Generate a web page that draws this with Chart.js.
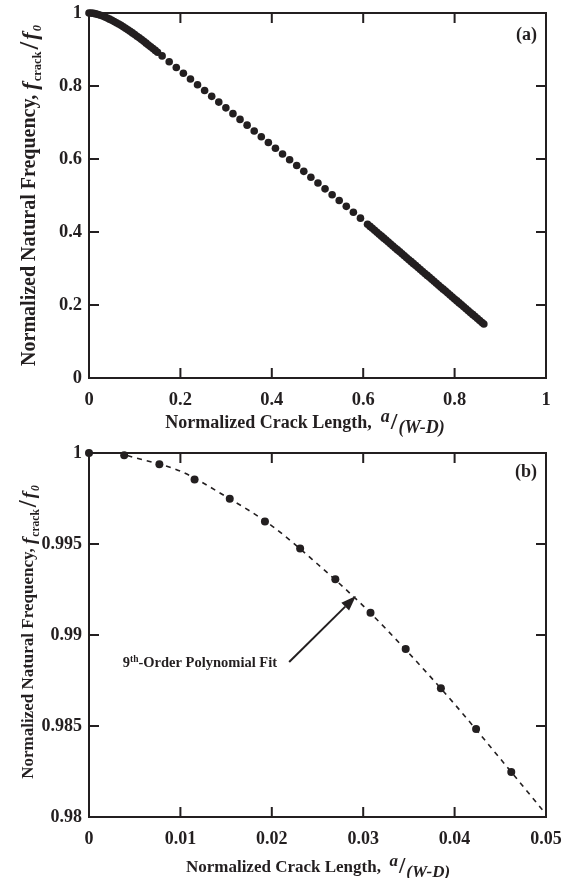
<!DOCTYPE html>
<html>
<head>
<meta charset="utf-8">
<script src="https://cdn.jsdelivr.net/npm/chart.js@4.4.0/dist/chart.umd.min.js"></script>
<style>
  html, body { margin: 0; padding: 0; background: #fff; }
  #wrap { position: relative; width: 575px; height: 878px; }
  .box { position: absolute; left: 0; width: 575px; }
</style>
</head>
<body>
<div id="wrap">
  <div class="box" style="top:0;height:440px"><canvas id="chartA"></canvas></div>
  <div class="box" style="top:440px;height:438px"><canvas id="chartB"></canvas></div>
</div>
<script>
// (a) full range of crack length
const aCrackLength = [
  0, 0.005, 0.01, 0.015, 0.02, 0.025, 0.03, 0.035, 0.04, 0.045, 0.05, 0.055, 0.06, 0.065, 0.07,
  0.075, 0.08, 0.085, 0.09, 0.095, 0.1, 0.105, 0.11, 0.115, 0.12, 0.125, 0.13, 0.135, 0.14, 0.145, 0.15,
  0.16, 0.1755, 0.191, 0.2065, 0.222, 0.2375, 0.253, 0.2685, 0.284, 0.2995, 0.315, 0.3305, 0.346,
  0.3615, 0.377, 0.3925, 0.408, 0.4235, 0.439, 0.4545, 0.47, 0.4855, 0.501, 0.5165, 0.532, 0.5475,
  0.563, 0.5785, 0.594, 0.6095,
  0.615, 0.62, 0.625, 0.63, 0.635, 0.64, 0.645, 0.65, 0.655, 0.66, 0.665, 0.67, 0.675, 0.68, 0.685,
  0.69, 0.695, 0.7, 0.705, 0.71, 0.715, 0.72, 0.725, 0.73, 0.735, 0.74, 0.745, 0.75, 0.755, 0.76,
  0.765, 0.77, 0.775, 0.78, 0.785, 0.79, 0.795, 0.8, 0.805, 0.81, 0.815, 0.82, 0.825, 0.83, 0.835,
  0.84, 0.845, 0.85, 0.855, 0.86, 0.864
];
const aFrequency = [
  1.0, 0.9997, 0.999, 0.9976, 0.996, 0.994, 0.9916, 0.989, 0.9862, 0.9832, 0.9801, 0.9768, 0.9734, 0.9698, 0.9661,
  0.9622, 0.9582, 0.9541, 0.9499, 0.9455, 0.9411, 0.9365, 0.9319, 0.9271, 0.9223, 0.9174, 0.9125, 0.9076, 0.9026, 0.8976, 0.8925,
  0.8824, 0.8666, 0.8508, 0.835, 0.8192, 0.8033, 0.7875, 0.7717, 0.7559, 0.7401, 0.7243, 0.7085, 0.6927,
  0.6769, 0.6611, 0.6452, 0.6294, 0.6136, 0.5978, 0.582, 0.5661, 0.5501, 0.5342, 0.5182, 0.5022, 0.4863,
  0.4703, 0.4543, 0.438, 0.4213,
  0.4154, 0.4101, 0.4047, 0.3993, 0.3939, 0.3886, 0.3832, 0.3778, 0.3724, 0.3671, 0.3617, 0.3563, 0.3509, 0.3456, 0.3402,
  0.3348, 0.3294, 0.3241, 0.3187, 0.3133, 0.3079, 0.3026, 0.2972, 0.2918, 0.2864, 0.2811, 0.2757, 0.2703, 0.2649, 0.2596,
  0.2542, 0.2488, 0.2434, 0.2381, 0.2327, 0.2273, 0.2219, 0.2166, 0.2112, 0.2058, 0.2004, 0.1951, 0.1897, 0.1843, 0.1789,
  0.1736, 0.1682, 0.1628, 0.1574, 0.1521, 0.1478
];

// (b) zoom on the first points
const bCrackLength = [0, 0.00385, 0.0077, 0.01155, 0.0154, 0.01925, 0.0231, 0.02695, 0.0308, 0.03465, 0.0385, 0.04235, 0.0462];
const bFrequency = [1.0, 0.99987, 0.99938, 0.99855, 0.99749, 0.99623, 0.99475, 0.99306, 0.99122, 0.98923, 0.98707, 0.98484, 0.98247];

// 9th-order polynomial fit
const fitCrackLength = [0.0042, 0.01, 0.015, 0.02, 0.025, 0.03, 0.035, 0.04, 0.045, 0.0496];
const fitFrequency = [0.99986, 0.999, 0.9976, 0.996, 0.9939, 0.9916, 0.989, 0.9862, 0.9832, 0.9804];

// annotation arrow (data coords)
const arrowTail = [0.0219, 0.98852];
const arrowTip = [0.0292, 0.99214];
const noteAt = [0.0037, 0.98853];

const ink = '#231f20';
const serif = '"Liberation Serif", "Times New Roman", serif';

function fmt(v) {
  return String(Math.round(v * 1000) / 1000);
}

function drawRich(ctx, parts, x, y, angle, align) {
  ctx.save();
  ctx.translate(x, y);
  ctx.rotate(angle);
  ctx.fillStyle = ink;
  ctx.textBaseline = 'alphabetic';
  ctx.textAlign = 'left';
  let total = 0;
  parts.forEach(p => {
    ctx.font = p.font;
    p.w = ctx.measureText(p.text).width + (p.gap || 0);
    total += p.w;
  });
  let cx = align === 'left' ? 0 : -total / 2;
  parts.forEach(p => {
    ctx.font = p.font;
    ctx.fillText(p.text, cx, p.dy || 0);
    cx += p.w;
  });
  ctx.restore();
}

// box round the plot with ticks pointing inwards on every side
const framePlugin = {
  id: 'frame',
  beforeDatasetsDraw(chart) {
    const { ctx, chartArea: a, scales: { x, y } } = chart;
    const len = 10;
    ctx.save();
    ctx.strokeStyle = ink;
    ctx.lineWidth = 2;
    ctx.strokeRect(a.left, a.top, a.right - a.left, a.bottom - a.top);
    ctx.beginPath();
    x.ticks.forEach((t, i) => {
      if (i === 0 || i === x.ticks.length - 1) return;
      const px = x.getPixelForValue(t.value);
      ctx.moveTo(px, a.bottom); ctx.lineTo(px, a.bottom - len);
      ctx.moveTo(px, a.top); ctx.lineTo(px, a.top + len);
    });
    y.ticks.forEach((t, i) => {
      if (i === 0 || i === y.ticks.length - 1) return;
      const py = y.getPixelForValue(t.value);
      ctx.moveTo(a.left, py); ctx.lineTo(a.left + len, py);
      ctx.moveTo(a.right, py); ctx.lineTo(a.right - len, py);
    });
    ctx.stroke();
    ctx.restore();
  }
};

// axis titles and panel letter
const titlePlugin = {
  id: 'titles',
  afterDraw(chart, args, o) {
    const { ctx, chartArea: a } = chart;
    const s = o.size;
    drawRich(ctx, [
      { text: 'Normalized Natural Frequency, ', font: `bold ${s.y}px ${serif}` },
      { text: 'f', font: `bold italic ${s.y + 2}px ${serif}`, dy: 2, gap: 1 },
      { text: 'crack', font: `bold ${s.sub}px ${serif}`, dy: 6, gap: 2 },
      { text: '/', font: `bold ${s.y + 8}px ${serif}`, dy: 3, gap: 2 },
      { text: 'f', font: `bold italic ${s.y + 2}px ${serif}`, dy: 2, gap: 1 },
      { text: '0', font: `bold italic ${s.sub}px ${serif}`, dy: 6 }
    ], o.yTitleX, (a.top + a.bottom) / 2 + o.yShift, -Math.PI / 2);

    drawRich(ctx, [
      { text: 'Normalized Crack Length,  ', font: `bold ${s.x}px ${serif}` },
      { text: 'a', font: `bold italic ${s.x}px ${serif}`, dy: -6, gap: 1 },
      { text: '/', font: `bold ${s.x + 6}px ${serif}`, dy: 1, gap: 1 },
      { text: '(W-D)', font: `bold italic ${s.x}px ${serif}`, dy: 5 }
    ], o.xTitleCx, o.xTitleY, 0);

    ctx.save();
    ctx.fillStyle = ink;
    ctx.font = `bold 18px ${serif}`;
    ctx.textAlign = 'right';
    ctx.textBaseline = 'alphabetic';
    ctx.fillText(o.panel, a.right - 9, a.top + o.panelDy);
    ctx.restore();
  }
};

// label and arrow pointing at the fitted curve
const notePlugin = {
  id: 'note',
  afterDatasetsDraw(chart, args, o) {
    if (!o.show) return;
    const { ctx, scales: { x, y } } = chart;
    const tx = x.getPixelForValue(arrowTail[0]), ty = y.getPixelForValue(arrowTail[1]);
    const hx = x.getPixelForValue(arrowTip[0]), hy = y.getPixelForValue(arrowTip[1]);
    const ang = Math.atan2(hy - ty, hx - tx);
    const head = 15, half = 5.5;
    const bx = hx - head * Math.cos(ang), by = hy - head * Math.sin(ang);
    ctx.save();
    ctx.strokeStyle = ink;
    ctx.fillStyle = ink;
    ctx.lineWidth = 2;
    ctx.beginPath();
    ctx.moveTo(tx, ty);
    ctx.lineTo(bx, by);
    ctx.stroke();
    ctx.beginPath();
    ctx.moveTo(hx, hy);
    ctx.lineTo(bx + half * Math.sin(ang), by - half * Math.cos(ang));
    ctx.lineTo(bx - half * Math.sin(ang), by + half * Math.cos(ang));
    ctx.closePath();
    ctx.fill();
    ctx.restore();

    drawRich(ctx, [
      { text: '9', font: `bold 14.5px ${serif}` },
      { text: 'th', font: `bold 9.5px ${serif}`, dy: -5 },
      { text: '-Order Polynomial Fit', font: `bold 14.5px ${serif}` }
    ], x.getPixelForValue(noteAt[0]), y.getPixelForValue(noteAt[1]) + 5, 0, 'left');
  }
};

function axis(min, max, step, size, pad, fit) {
  return {
    type: 'linear',
    min: min,
    max: max,
    ticks: {
      stepSize: step,
      autoSkip: false,
      maxRotation: 0,
      padding: pad,
      color: ink,
      font: { family: 'Liberation Serif', size: size, weight: 'bold' },
      callback: v => fmt(v)
    },
    grid: { display: false, drawTicks: false },
    border: { display: false },
    afterFit: s => {
      fit(s);
      // keep the plot box where the layout padding puts it
      s.paddingTop = 0; s.paddingBottom = 0;
      s.paddingLeft = 0; s.paddingRight = 0;
    }
  };
}

Chart.defaults.animation = false;

new Chart(document.getElementById('chartA'), {
  type: 'scatter',
  data: {
    datasets: [{
      data: aCrackLength.map((v, i) => ({ x: v, y: aFrequency[i] })),
      pointRadius: 3.8,
      pointBackgroundColor: ink,
      pointBorderWidth: 0,
      clip: false
    }]
  },
  options: {
    responsive: true,
    maintainAspectRatio: false,
    layout: { padding: { top: 13, right: 29, left: 0, bottom: 0 } },
    scales: {
      x: axis(0, 1, 0.2, 18.5, 11, s => { s.height = 62; }),
      y: axis(0, 1, 0.2, 18.5, 7, s => { s.width = 89; })
    },
    plugins: {
      legend: { display: false },
      tooltip: { enabled: false },
      titles: { size: { x: 18, y: 20, sub: 12.5 }, yTitleX: 34.5, yShift: 0, xTitleCx: 305, xTitleY: 428, panel: '(a)', panelDy: 27 },
      note: { show: false }
    }
  },
  plugins: [framePlugin, titlePlugin, notePlugin]
});

new Chart(document.getElementById('chartB'), {
  type: 'scatter',
  data: {
    datasets: [{
      data: bCrackLength.map((v, i) => ({ x: v, y: bFrequency[i] })),
      pointRadius: 4,
      pointBackgroundColor: ink,
      pointBorderWidth: 0,
      clip: false
    }, {
      data: fitCrackLength.map((v, i) => ({ x: v, y: fitFrequency[i] })),
      showLine: true,
      borderColor: ink,
      borderWidth: 1.6,
      borderDash: [5, 5],
      cubicInterpolationMode: 'monotone',
      pointRadius: 0
    }]
  },
  options: {
    responsive: true,
    maintainAspectRatio: false,
    layout: { padding: { top: 13, right: 29, left: 0, bottom: 0 } },
    scales: {
      x: axis(0, 0.05, 0.01, 18, 12, s => { s.height = 61; }),
      y: axis(0.98, 1, 0.005, 18, 7, s => { s.width = 89; })
    },
    plugins: {
      legend: { display: false },
      tooltip: { enabled: false },
      titles: { size: { x: 17, y: 17, sub: 11.5 }, yTitleX: 33, yShift: -3, xTitleCx: 318, xTitleY: 432, panel: '(b)', panelDy: 24 },
      note: { show: true }
    }
  },
  plugins: [framePlugin, titlePlugin, notePlugin]
});
</script>
</body>
</html>
